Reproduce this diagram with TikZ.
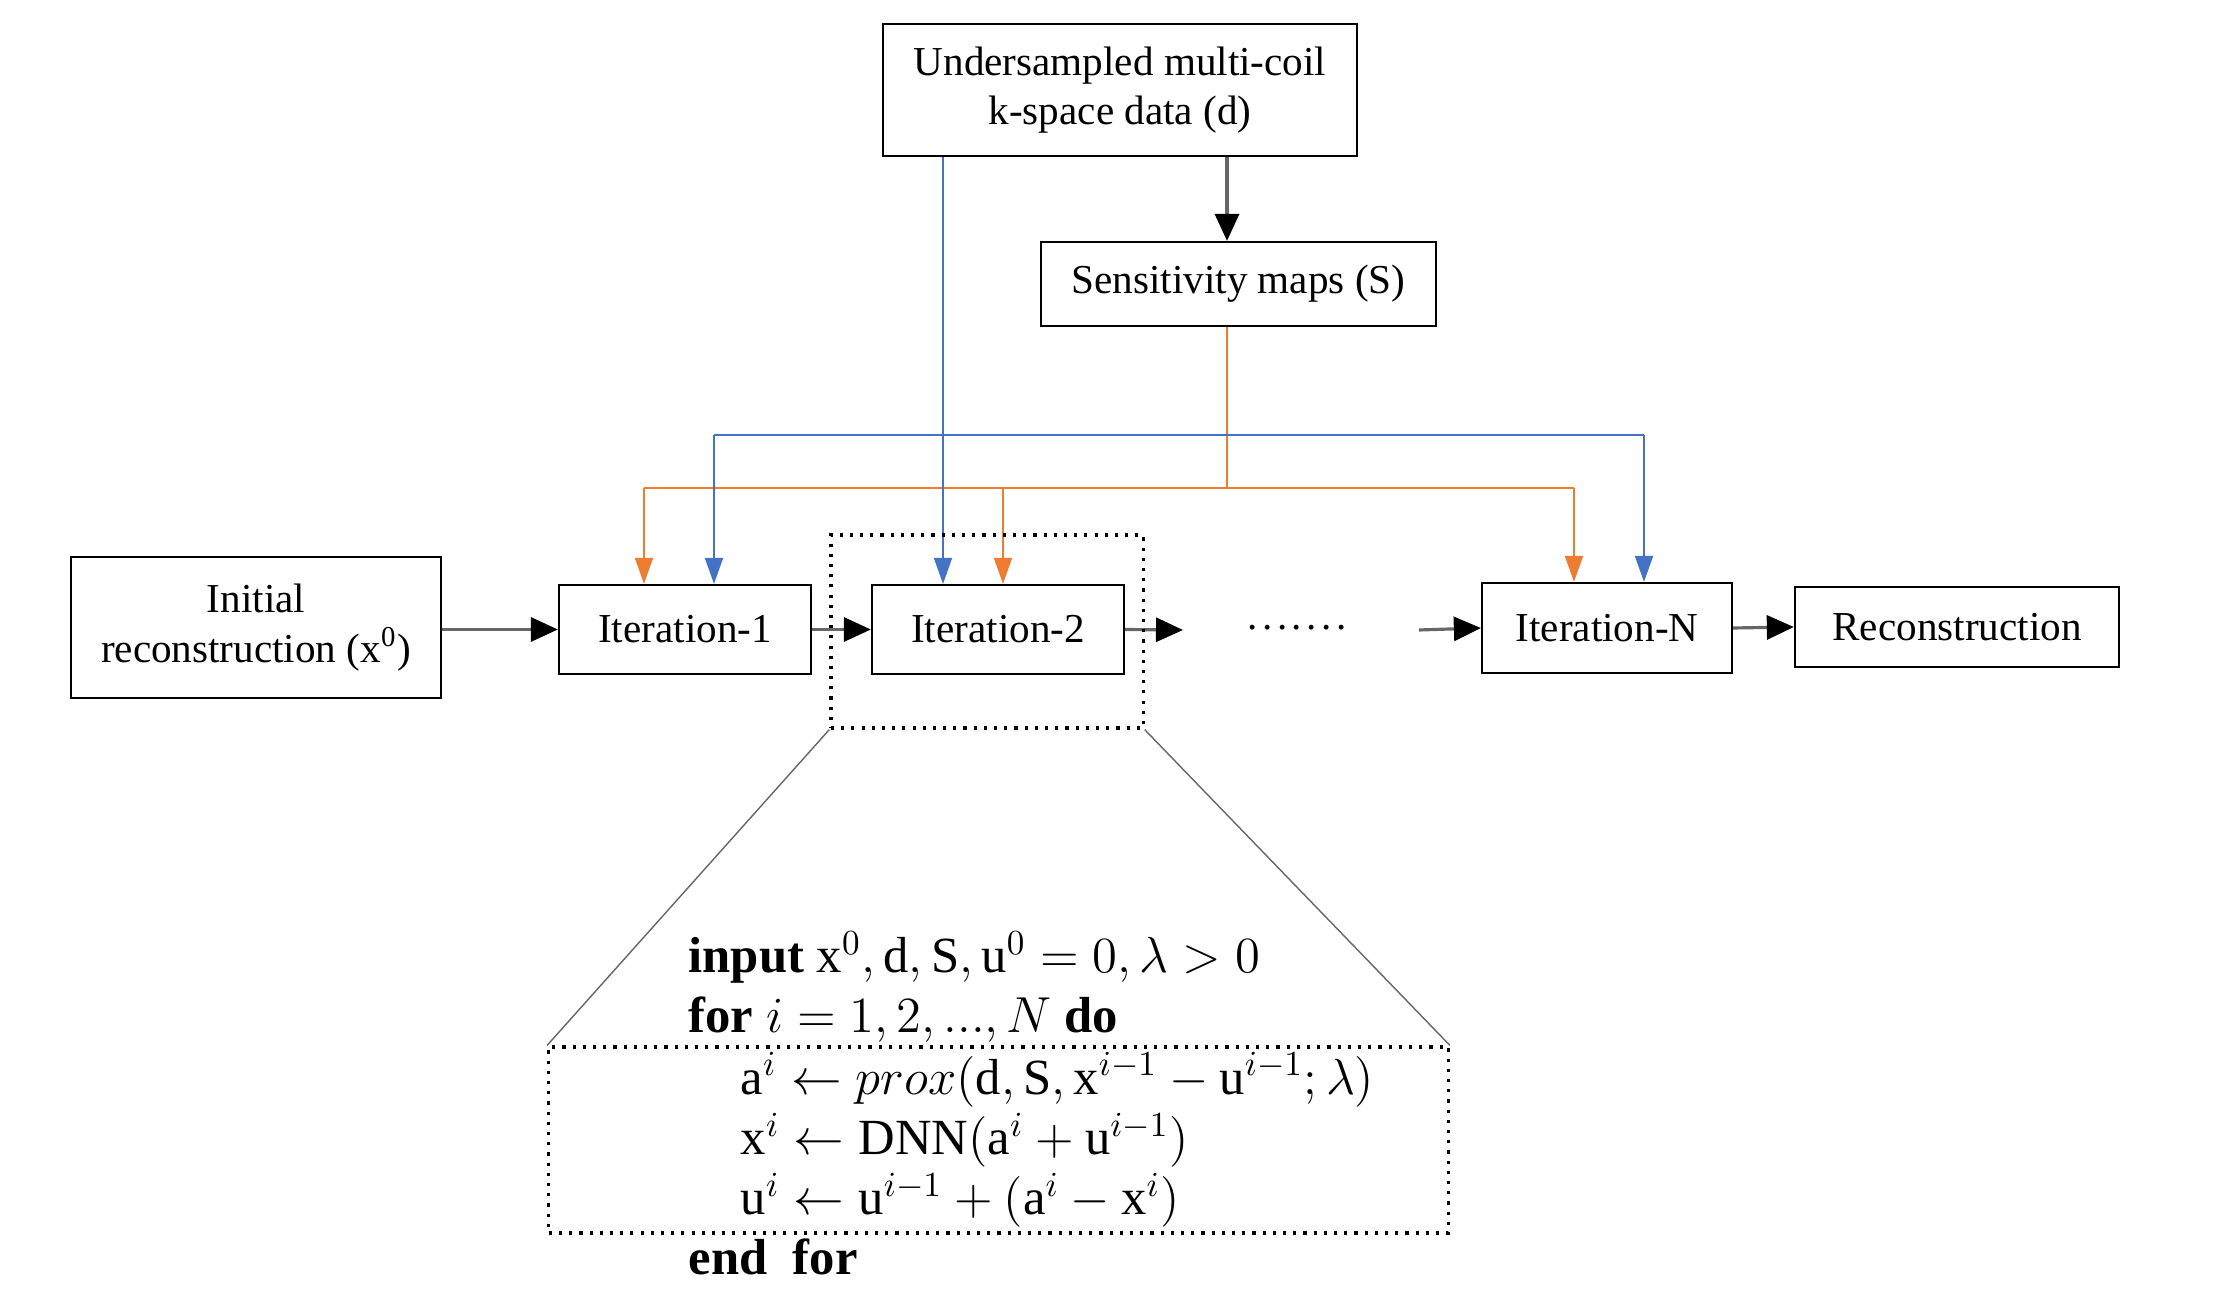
\documentclass[tikz,border=0pt]{standalone}
\usepackage{amsmath}
\usepackage{fontspec}
\setmainfont{Liberation Serif}
\usetikzlibrary{arrows.meta}
\definecolor{org}{HTML}{ED7D31}
\definecolor{blu}{HTML}{4472C4}
\newcommand{\tr}[1]{\textnormal{#1}}
\begin{document}
\begin{tikzpicture}[x=0.01cm,y=-0.01cm,
  box/.style={draw,line width=0.6pt,inner sep=0pt,align=center,font=\fontsize{11.7}{14}\selectfont},
  blk/.style={draw=black!60,line width=0.9pt,-{Triangle[black,length=0.27cm,width=0.24cm]}},
  orng/.style={draw=org,line width=0.5pt},
  blue/.style={draw=blu,line width=0.5pt},
  orngarr/.style={orng,-{Triangle[org,length=0.26cm,width=0.18cm]}},
  bluearr/.style={blue,-{Triangle[blu,length=0.26cm,width=0.18cm]}},
  dotbox/.style={draw,dotted,line width=0.9pt},
  zoomline/.style={draw=black!60,line width=0.4pt},
  alg/.style={anchor=base west,inner sep=0pt,font=\fontsize{14.4}{17}\selectfont}]
\useasboundingbox (0,0) rectangle (2230,1292);

\node[box,minimum width=4.74cm,minimum height=1.32cm] (top) at (1120,90) {Undersampled multi-coil\\k-space data (d)};
\node[box,minimum width=3.95cm,minimum height=0.84cm] (sens) at (1238.5,284) {Sensitivity maps (S)};
\node[box,minimum width=3.70cm,minimum height=1.41cm] (init) at (256,627.5) {Initial\\reconstruction (x\textsuperscript{0})};
\node[box,minimum width=2.52cm,minimum height=0.89cm] (it1) at (685,629.5) {Iteration-1};
\node[box,minimum width=2.52cm,minimum height=0.89cm] (it2) at (998,629.5) {Iteration-2};
\node[box,minimum width=2.50cm,minimum height=0.90cm] (itN) at (1607,628) {Iteration-N};
\node[box,minimum width=3.24cm,minimum height=0.80cm] (rec) at (1957,627) {Reconstruction};
\node[inner sep=0pt,anchor=base,font=\fontsize{11.7}{14}\selectfont] (dots) at (1297,630) {.\kern1.3pt.\kern1.3pt.\kern1.3pt.\kern1.3pt.\kern1.3pt.\kern1.3pt.};

\coordinate (ja) at (1227,488);
\coordinate (jb) at (943,435);
\coordinate (d1) at (1183,630);
\coordinate (d2) at (1419,630);
\coordinate (o1) at (644,488);
\coordinate (o2) at (1003,488);
\coordinate (o3) at (1574,488);
\coordinate (b1) at (714,435);
\coordinate (b3) at (1644,435);

% black connectors
\draw[blk] (top.south -| ja) -- (sens.north -| ja);
\draw[blk] (init.east |- it1.west) -- (it1.west);
\draw[blk] (it1.east) -- (it2.west);
\draw[blk] (it2.east) -- (d1);
\draw[blk] (d2) -- (itN.west);
\draw[blk] (itN.east) -- (rec.west -| rec.west);

% orange
\draw[orng] (sens.south -| ja) -- (ja);
\draw[orng] (o1) -- (o3);
\draw[orngarr] (o1) -- (it1.north -| o1);
\draw[orngarr] (o2) -- (it2.north -| o2);
\draw[orngarr] (o3) -- (itN.north -| o3);

% blue
\draw[bluearr] (top.south -| jb) -- (it2.north -| jb);
\draw[blue] (b1) -- (b3);
\draw[bluearr] (b1) -- (it1.north -| b1);
\draw[bluearr] (b3) -- (itN.north -| b3);

% zoom boxes
\node[dotbox,inner sep=0pt,minimum width=3.12cm,minimum height=1.93cm] (zb) at (987,631.5) {};
\node[dotbox,inner sep=0pt,minimum width=8.99cm,minimum height=1.86cm] (lb) at (998.5,1140) {};
\draw[zoomline] (zb.south west) -- (lb.north west);
\draw[zoomline] (zb.south east) -- (lb.north east);

% algorithm
\node[alg] (l1) at (688,973) {\textbf{input} $\tr{x}^0,\tr{d},\tr{S},\tr{u}^0=0,\lambda>0$};
\node[alg] (l2) at (688,1033) {\textbf{for} $i=1,2,...,N$ \textbf{do}};
\node[alg] (l3) at (740,1094) {$\tr{a}^i\leftarrow prox(\tr{d},\tr{S},\tr{x}^{i-1}-\tr{u}^{i-1};\lambda)$};
\node[alg] (l4) at (740,1155) {$\tr{x}^i\leftarrow \tr{DNN}(\tr{a}^i+\tr{u}^{i-1})$};
\node[alg] (l5) at (740,1215) {$\tr{u}^i\leftarrow \tr{u}^{i-1}+(\tr{a}^i-\tr{x}^i)$};
\node[alg] (l6) at (688,1274) {\textbf{end\ \ for}};
\end{tikzpicture}
\end{document}
